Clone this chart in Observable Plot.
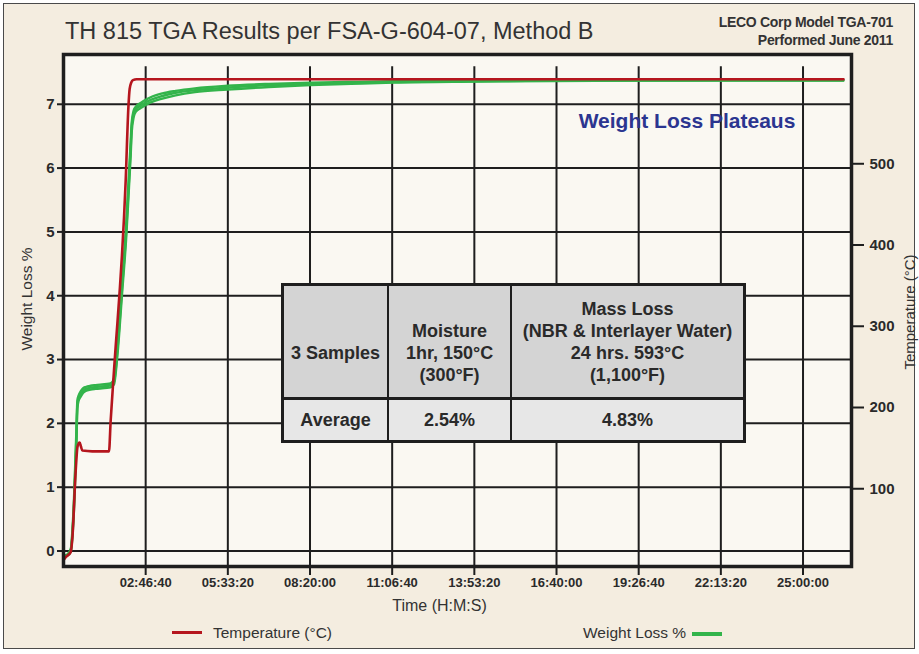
<!DOCTYPE html>
<html>
<head>
<meta charset="utf-8">
<script src="https://cdn.jsdelivr.net/npm/d3@7"></script>
<script src="https://cdn.jsdelivr.net/npm/@observablehq/plot@0.6"></script>
<style>
  html, body { margin: 0; padding: 0; background: #ffffff; }
  body { width: 919px; height: 654px; overflow: hidden; font-family: "Liberation Sans", Arial, Helvetica, sans-serif; color: #333; }
  #page { position: relative; width: 919px; height: 654px; }
  #box { position: absolute; left: 3px; top: 3px; width: 910px; height: 644px; background: #f4ede0; border: 1.5px solid #4a4a4a; }
  #title { position: absolute; left: 65px; top: 20px; font-size: 23.5px; line-height: 1; color: #333; white-space: nowrap; }
  #info { position: absolute; right: 26px; top: 13px; font-size: 14px; font-weight: bold; line-height: 18px; text-align: right; color: #333; letter-spacing: -0.3px; }
  #chart { position: absolute; left: 0; top: 45px; }
  #plateau { position: absolute; left: 537px; top: 110px; width: 300px; text-align: center; font-size: 21px; font-weight: bold; line-height: 1; color: #2b3590; }
  #tbl { position: absolute; left: 281px; top: 283px; width: 465px; height: 160px; background: #1e1e1e; }
  .cell { position: absolute; display: flex; flex-direction: column; align-items: center; text-align: center; font-size: 18px; font-weight: bold; line-height: 22px; color: #2a2a2a; box-sizing: border-box; }
  .hd { background: #d4d4d4; justify-content: flex-end; padding-bottom: 11px; }
  .av { background: #e7e7e7; justify-content: center; }
  .leg { position: absolute; font-size: 15.5px; line-height: 1; color: #333; white-space: nowrap; }
  .sw { position: absolute; height: 3.5px; width: 30px; }
</style>
</head>
<body>
<div id="page">
  <div id="box"></div>
  <div id="title"></div>
  <div id="info"></div>
  <div id="chart"></div>
  <div id="plateau"></div>
  <div id="tbl"></div>
  <div class="sw" style="left:172px; top:630.5px; background:#b5161e;"></div>
  <div class="leg" id="legT" style="left:213px; top:625px;"></div>
  <div class="leg" id="legW" style="left:583px; top:625px;"></div>
  <div class="sw" style="left:692px; top:632px; background:#33b44b;"></div>
</div>
<script>
// ---------- text ----------
const titleText = "TH 815 TGA Results per FSA-G-604-07, Method B";
const infoLines = ["LECO Corp Model TGA-701", "Performed June 2011"];
const plateauText = "Weight Loss Plateaus";
const xLabel = "Time (H:M:S)";
const yLabel = "Weight Loss %";
const y2Label = "Temperature (°C)";
const legendLabels = ["Temperature (°C)", "Weight Loss %"];

// ---------- table ----------
const tableHeader = [["3 Samples"], ["Moisture", "1hr, 150°C", "(300°F)"], ["Mass Loss", "(NBR & Interlayer Water)", "24 hrs. 593°C", "(1,100°F)"]];
const tableRow = ["Average", "2.54%", "4.83%"];

// ---------- axes ----------
const xTicks = [10000, 20000, 30000, 40000, 50000, 60000, 70000, 80000, 90000]; // seconds
const wlTicks = [0, 1, 2, 3, 4, 5, 6, 7];
const tempTicks = [100, 200, 300, 400, 500];
const xDomain = [0, 95900];
const wlDomain = [-0.243, 7.78];
const tempDomain = [4.3, 634.5];
const gridTop = 7.59;

// ---------- temperature (red) ----------
const tTemp = [0, 300, 876, 1083, 1484, 1691, 1850, 1971, 2120, 2299, 3500, 4500, 5535, 5742, 6143, 7567, 7900, 8050, 8250, 8450, 8905, 94926];
const temp  = [12, 16, 22, 40, 122, 151, 156, 157, 152, 147, 146, 146, 146, 184, 245, 479, 570, 592, 600, 603, 604, 604];

// ---------- weight loss % (green, 3 samples) ----------
const tWL = [0, 500, 900, 1100, 1280, 1450, 1570, 1690, 1850, 2090, 2400, 2700, 3300, 3900, 4700, 5535, 5800, 6143, 6557, 7165, 7627, 7968, 8175, 8297, 8540, 8784, 9393, 10000, 10608, 12031, 13649, 16000, 19939, 25000, 30072, 35000, 40169, 50144, 59268, 70217, 80000, 94900];
const wlSample1 = [-0.07, -0.05, 0.04, 0.36, 0.82, 1.45, 1.88, 2.36, 2.44, 2.50, 2.55, 2.57, 2.59, 2.60, 2.61, 2.62, 2.63, 2.70, 3.22, 4.28, 5.10, 5.92, 6.40, 6.71, 6.90, 6.96, 7.02, 7.07, 7.11, 7.17, 7.21, 7.25, 7.29, 7.32, 7.34, 7.35, 7.36, 7.37, 7.375, 7.38, 7.38, 7.38];
const wlSample2 = [-0.08, -0.06, 0.02, 0.30, 0.74, 1.35, 1.78, 2.31, 2.40, 2.46, 2.51, 2.54, 2.56, 2.57, 2.58, 2.59, 2.60, 2.65, 3.14, 4.19, 5.00, 5.81, 6.30, 6.64, 6.85, 6.92, 6.98, 7.03, 7.07, 7.13, 7.18, 7.22, 7.26, 7.30, 7.32, 7.34, 7.35, 7.36, 7.37, 7.37, 7.375, 7.375];
const wlSample3 = [-0.09, -0.07, 0.00, 0.25, 0.66, 1.25, 1.68, 2.24, 2.36, 2.42, 2.48, 2.51, 2.53, 2.54, 2.55, 2.56, 2.57, 2.61, 3.06, 4.10, 4.90, 5.70, 6.20, 6.56, 6.80, 6.88, 6.94, 6.99, 7.03, 7.09, 7.14, 7.19, 7.23, 7.27, 7.30, 7.32, 7.34, 7.355, 7.365, 7.37, 7.37, 7.37];

// ---------- colours ----------
const red = "#b5161e", green = "#33b44b", ink = "#1e1e1e";

// ---------- build ----------
const tempToWL = d3.scaleLinear(tempDomain, wlDomain);
const pad = n => String(n).padStart(2, "0");
const hms = s => `${pad(Math.floor(s / 3600))}:${pad(Math.floor((s % 3600) / 60))}:${pad(s % 60)}`;

const tempRows = tTemp.map((t, i) => ({t, temp: temp[i]}));
const wlRows = [wlSample1, wlSample2, wlSample3].flatMap((arr, k) => tWL.map((t, i) => ({t, wl: arr[i], sample: k})));

document.getElementById("title").textContent = titleText;
document.getElementById("info").innerHTML = infoLines.map(s => `<div>${s}</div>`).join("");
document.getElementById("plateau").textContent = plateauText;
document.getElementById("legT").textContent = legendLabels[0];
document.getElementById("legW").textContent = legendLabels[1];

const font = "'Liberation Sans', Arial, Helvetica, sans-serif";
const chart = Plot.plot({
  width: 919,
  height: 578,
  marginTop: 9,
  marginBottom: 57,
  marginLeft: 63,
  marginRight: 68,
  style: {background: "transparent", fontFamily: font, color: "#333", overflow: "visible"},
  x: {domain: xDomain},
  y: {domain: wlDomain},
  marks: [
    Plot.frame({fill: "#faf8f2", stroke: null}),
    Plot.ruleY(wlTicks, {stroke: ink, strokeWidth: 2}),
    Plot.ruleX(xTicks, {y1: wlDomain[0], y2: gridTop, stroke: ink, strokeWidth: 2}),
    Plot.axisX(xTicks, {tickFormat: hms, tickSize: 9, tickPadding: 2, stroke: ink, strokeWidth: 2, fill: "#2a2a2a", fontSize: 13, fontWeight: "bold", label: null}),
    Plot.axisY(wlTicks, {anchor: "left", tickFormat: d => String(d), tickSize: 6, tickPadding: 3, stroke: ink, strokeWidth: 2, fill: "#2a2a2a", fontSize: 15, fontWeight: "bold", label: null}),
    Plot.axisY(tempTicks.map(v => tempToWL(v)), {anchor: "right", tickFormat: d => String(Math.round(tempToWL.invert(d))), tickSize: 12, tickPadding: 6, stroke: ink, strokeWidth: 2, fill: "#2a2a2a", fontSize: 15, fontWeight: "bold", label: null}),
    Plot.line(wlRows, {x: "t", y: "wl", z: "sample", stroke: green, strokeWidth: 2.4, curve: "monotone-x"}),
    Plot.line(tempRows, {x: "t", y: d => tempToWL(d.temp), stroke: red, strokeWidth: 2.6, curve: "monotone-x"}),
    Plot.frame({stroke: ink, strokeWidth: 3.5}),
    Plot.text([xLabel], {frameAnchor: "bottom", text: d => d, textAnchor: "middle", dx: -18, dy: 44, lineAnchor: "bottom", fontSize: 16, fill: "#333"}),
    Plot.text([yLabel], {frameAnchor: "left", text: d => d, textAnchor: "middle", rotate: -90, dx: -36, dy: -11.5, fontSize: 15.5, fill: "#333"}),
    Plot.text([y2Label], {frameAnchor: "right", text: d => d, textAnchor: "middle", rotate: -90, dx: 59, dy: 1.5, fontSize: 15, fill: "#333"})
  ]
});
document.getElementById("chart").appendChild(chart);

// table
const tbl = document.getElementById("tbl");
const cols = [{left: 3, width: 103}, {left: 108, width: 121}, {left: 231, width: 231}];
tableHeader.forEach((lines, i) => {
  const c = document.createElement("div");
  c.className = "cell hd";
  c.style.left = cols[i].left + "px";
  c.style.width = cols[i].width + "px";
  c.style.top = "3px";
  c.style.height = "111px";
  if (i === 0) c.style.paddingBottom = "33px";
  c.innerHTML = lines.map(s => `<div style="white-space:nowrap">${s}</div>`).join("");
  tbl.appendChild(c);
});
tableRow.forEach((s, i) => {
  const c = document.createElement("div");
  c.className = "cell av";
  c.style.left = cols[i].left + "px";
  c.style.width = cols[i].width + "px";
  c.style.top = "117px";
  c.style.height = "40px";
  c.textContent = s;
  tbl.appendChild(c);
});
</script>
</body>
</html>
